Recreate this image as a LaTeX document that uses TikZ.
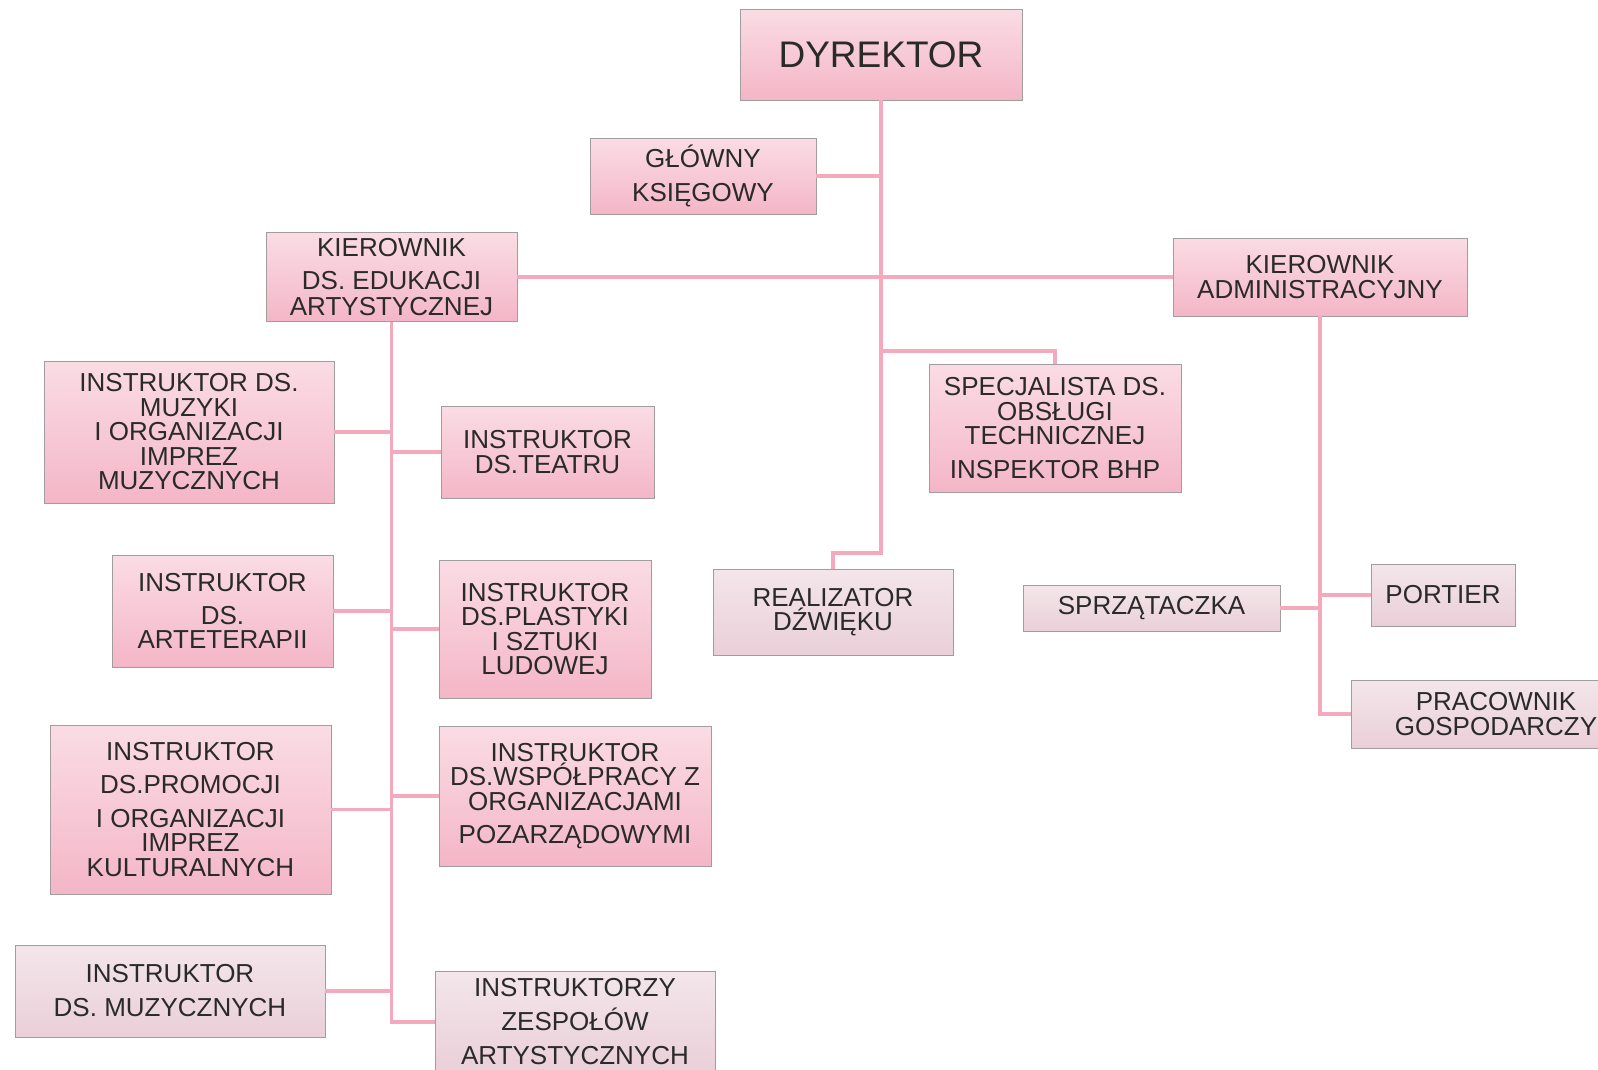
\documentclass[tikz,border=0pt]{standalone}
\usepackage{fontspec}
\setmainfont{Liberation Sans}
\usepackage{xcolor}
\usepackage{tikz}
\usetikzlibrary{positioning,calc}

\definecolor{pinktop}{HTML}{FADCE5}
\definecolor{pinkbot}{HTML}{F4B6C7}
\definecolor{greytop}{HTML}{F3E6EA}
\definecolor{greybot}{HTML}{EACFD8}
\definecolor{linkpink}{HTML}{F4A9BC}
\definecolor{boxedge}{HTML}{A39C9E}
\definecolor{txt}{HTML}{2A2A2A}

\begin{document}
\begin{tikzpicture}[x=1pt, y=-1pt,
    box/.style={draw=boxedge, line width=0.8pt, align=center, text=txt, inner sep=2pt,
        font=\fontsize{26}{24.5}\selectfont},
    pinkbox/.style={box, top color=pinktop, bottom color=pinkbot},
    greybox/.style={box, top color=greytop, bottom color=greybot},
    conn/.style={draw=linkpink, line width=3.5pt}]
    \fill[white] (0,0) rectangle (1598,1069);
    \path[use as bounding box] (0,0) rectangle (1598,1069);
    \clip (0,0) rectangle (1598,1069);
    % top
    \node[pinkbox, minimum width=282pt, minimum height=91pt, font=\fontsize{37}{40}\selectfont] (dyr) at (881,54.5) {DYREKTOR};
    \node[pinkbox, minimum width=226pt, minimum height=76pt] (ksieg) at (703,176) {GŁÓWNY\\[9.5pt]KSIĘGOWY};
    \node[pinkbox, minimum width=251pt, minimum height=89pt] (kered) at (391.5,277) {KIEROWNIK\\[9pt]DS. EDUKACJI\\[1.5pt]ARTYSTYCZNEJ};
    \node[pinkbox, minimum width=294pt, minimum height=78pt] (keradm) at (1320,277) {KIEROWNIK\\ADMINISTRACYJNY};
    % middle
    \node[pinkbox, minimum width=252pt, minimum height=128pt] (specj) at (1055,428) {SPECJALISTA DS.\\OBSŁUGI\\TECHNICZNEJ\\[9pt]INSPEKTOR BHP};
    \node[greybox, minimum width=240pt, minimum height=86pt] (real) at (833,612) {REALIZATOR\\DŹWIĘKU};
    % left column
    \node[pinkbox, minimum width=290pt, minimum height=142pt] (muzyki) at (189,432) {INSTRUKTOR DS.\\MUZYKI\\I ORGANIZACJI\\IMPREZ\\MUZYCZNYCH};
    \node[pinkbox, minimum width=221pt, minimum height=112pt] (arte) at (222.5,611) {INSTRUKTOR\\[8pt]DS.\\ARTETERAPII};
    \node[pinkbox, minimum width=281pt, minimum height=169pt] (promocji) at (190.5,809.5) {INSTRUKTOR\\[9pt]DS.PROMOCJI\\[9pt]I ORGANIZACJI\\IMPREZ\\KULTURALNYCH};
    \node[greybox, minimum width=310pt, minimum height=92pt] (muzycz) at (170,991) {INSTRUKTOR\\[9.5pt]DS. MUZYCZNYCH};
    % right of left trunk
    \node[pinkbox, minimum width=213pt, minimum height=92pt] (teatr) at (547.5,452) {INSTRUKTOR\\DS.TEATRU};
    \node[pinkbox, minimum width=212pt, minimum height=138pt] (plast) at (545,629) {INSTRUKTOR\\DS.PLASTYKI\\I SZTUKI\\LUDOWEJ};
    \node[pinkbox, minimum width=272pt, minimum height=140pt] (wspolp) at (575,796) {INSTRUKTOR\\DS.WSPÓŁPRACY Z\\ORGANIZACJAMI\\[9pt]POZARZĄDOWYMI};
    \node[greybox, minimum width=280pt, minimum height=102pt] (zespol) at (575,1022) {INSTRUKTORZY\\[9.5pt]ZESPOŁÓW\\[9.5pt]ARTYSTYCZNYCH};
    % administration
    \node[greybox, minimum width=257pt, minimum height=46pt] (sprz) at (1151.5,608) {SPRZĄTACZKA};
    \node[greybox, minimum width=144pt, minimum height=62pt] (portier) at (1443,595) {PORTIER};
    \node[greybox, minimum width=290pt, minimum height=68pt] (pracown) at (1496,714) {PRACOWNIK\\GOSPODARCZY};

    % main trunk
    \coordinate (jspec) at (881,351);
    \coordinate (jreal) at (881,553);
    \draw[conn] (dyr.south) -- (jreal) -| (real.north);
    \draw[conn] (ksieg.east) -- (ksieg.east -| dyr.south);
    \draw[conn] (kered.east) -- (keradm.west);
    \draw[conn] (jspec) -| (specj.north);
    % left trunk
    \draw[conn] (kered.south) -- (kered.south |- zespol.west) -- (zespol.west);
    \draw[conn] (muzyki.east) -- (muzyki.east -| kered.south);
    \draw[conn] (teatr.west) -- (teatr.west -| kered.south);
    \draw[conn] (arte.east) -- (arte.east -| kered.south);
    \draw[conn] (plast.west) -- (plast.west -| kered.south);
    \draw[conn] (promocji.east) -- (promocji.east -| kered.south);
    \draw[conn] (wspolp.west) -- (wspolp.west -| kered.south);
    \draw[conn] (muzycz.east) -- (muzycz.east -| kered.south);
    % right trunk
    \draw[conn] (keradm.south) -- (keradm.south |- pracown.west) -- (pracown.west);
    \draw[conn] (portier.west) -- (portier.west -| keradm.south);
    \draw[conn] (sprz.east) -- (sprz.east -| keradm.south);
\end{tikzpicture}
\end{document}
